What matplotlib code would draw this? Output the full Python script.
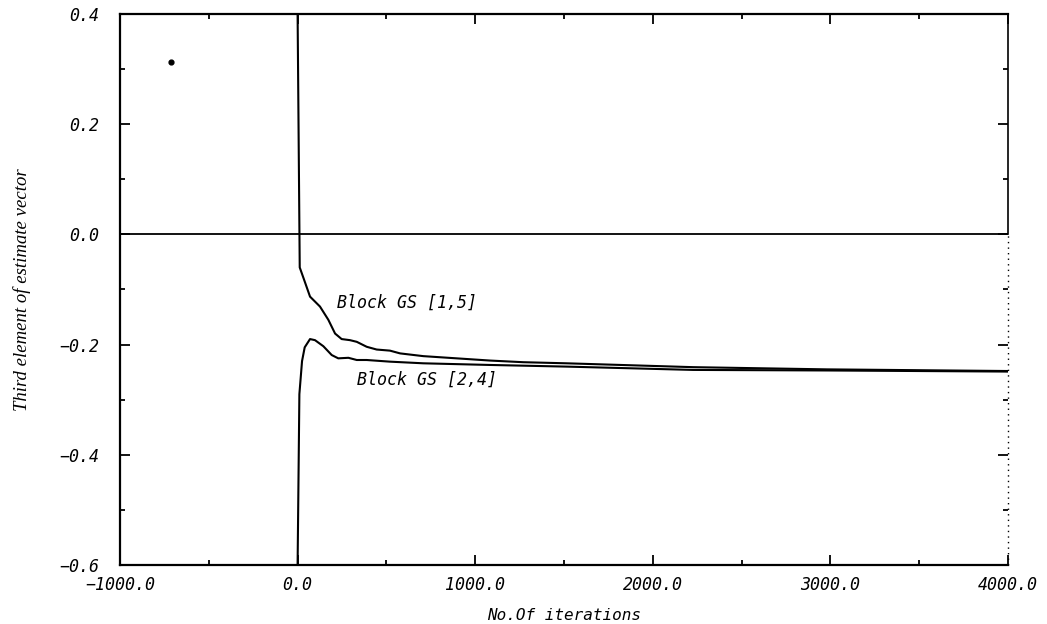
import numpy as np
import matplotlib.pyplot as plt

# values
gs15_iter = [0, 12, 34, 70, 126, 173, 211, 248, 295, 333, 389, 445, 520, 577,
             708, 896, 1083, 1271, 1515, 2227, 2980, 4000]
gs15_est = [0.4, -0.06, -0.080, -0.113, -0.131, -0.155, -0.180, -0.190, -0.192,
            -0.195, -0.204, -0.209, -0.211, -0.216, -0.221, -0.225, -0.229,
            -0.232, -0.234, -0.241, -0.245, -0.248]

gs24_iter = [0, 10, 25, 40, 70, 98, 145, 192, 229, 286, 333, 389, 520, 708,
             1083, 1515, 2227, 2980, 4000]
gs24_est = [-0.6, -0.29, -0.23, -0.205, -0.190, -0.192, -0.203, -0.219, -0.225,
            -0.224, -0.228, -0.228, -0.231, -0.234, -0.237, -0.240, -0.246,
            -0.247, -0.249]

stray_x = [-710]
stray_y = [0.312]

x_ticks = [-1000, 0, 1000, 2000, 3000, 4000]
x_labels = ['\u22121000.0', '0.0', '1000.0', '2000.0', '3000.0', '4000.0']
y_ticks = [-0.6, -0.4, -0.2, 0.0, 0.2, 0.4]
y_labels = ['\u22120.6', '\u22120.4', '\u22120.2', '0.0', '0.2', '0.4']

mono = dict(family='DejaVu Sans Mono', style='oblique')

fig = plt.figure(figsize=(10.47, 6.24), dpi=100)
ax = fig.add_axes([0.1146, 0.0946, 0.8482, 0.883])

ax.plot(gs15_iter, gs15_est, color='black', lw=1.5)
ax.plot(gs24_iter, gs24_est, color='black', lw=1.5)
ax.scatter(stray_x, stray_y, s=12, color='black')

ax.axhline(0.0, color='black', lw=1.3)

ax.text(220, -0.1245, 'Block GS [1,5]', fontsize=12, va='center', ha='left', **mono)
ax.text(333, -0.264, 'Block GS [2,4]', fontsize=12, va='center', ha='left', **mono)

ax.set_xlim(-1000, 4000)
ax.set_ylim(-0.6, 0.4)

ax.set_xticks(x_ticks)
ax.set_xticklabels(x_labels, fontsize=12, **mono)
ax.set_yticks(y_ticks)
ax.set_yticklabels(y_labels, fontsize=12, **mono)
ax.set_xticks(np.arange(-500, 4000, 1000), minor=True)
ax.set_yticks(np.arange(-0.5, 0.4, 0.2), minor=True)

ax.tick_params(which='both', direction='in', top=True, right=True, width=1.3)
ax.tick_params(which='major', length=7)
ax.tick_params(which='minor', length=3.5)
ax.tick_params(axis='x', pad=8)
ax.tick_params(axis='y', pad=15)

for side in ['left', 'top', 'bottom']:
    ax.spines[side].set_linewidth(1.6)
# right edge of the scan is solid above zero and broken below
ax.spines['right'].set_visible(False)
ax.axvline(4000, ymin=0.6, ymax=1.0, color='black', lw=1.2, clip_on=False)
ax.axvline(4000, ymin=0.0, ymax=0.6, color='black', lw=1.0, ls=(0, (1, 3)), clip_on=False)

ax.set_xlabel('No.Of iterations', fontsize=11.5, labelpad=10, **mono)
ax.set_ylabel('Third element of estimate vector', fontsize=13.5,
              family='Liberation Serif', style='italic', labelpad=20)

fig.savefig('out.png', dpi=100)
